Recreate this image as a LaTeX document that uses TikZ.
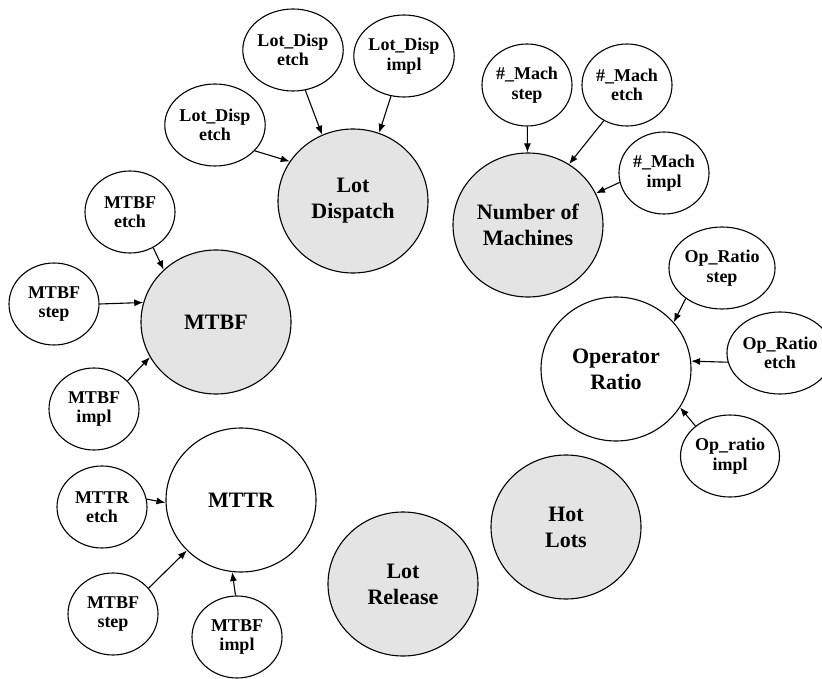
\documentclass[tikz,border=0pt]{standalone}
\usepackage{fontspec}
\setmainfont{Liberation Serif}
\usetikzlibrary{shapes.geometric,arrows.meta}
\definecolor{factorgray}{HTML}{E4E4E4}
\begin{document}
\begin{tikzpicture}[x=1pt,y=-1pt,
  factor/.style={ellipse,draw,line width=1.1pt,inner sep=0pt,
    minimum width=150pt,minimum height=144pt,align=center,
    font=\bfseries\fontsize{22}{26}\selectfont},
  shaded/.style={factor,fill=factorgray},
  sub/.style={ellipse,draw,line width=1.1pt,inner sep=0pt,
    minimum width=90pt,minimum height=82pt,align=center,
    font=\bfseries\fontsize{18}{19.5}\selectfont},
  link/.style={line width=1.1pt,-{Latex[length=9pt,width=7pt]}}]
  \useasboundingbox (0,0) rectangle (822,679);
  % main factors
  \node[shaded] (ld) at (353,201) {Lot\\Dispatch};
  \node[shaded] (nm) at (528,225) {Number of\\Machines};
  \node[shaded] (mtbf) at (216,322) {MTBF};
  \node[factor] (or) at (616,369) {Operator\\Ratio};
  \node[factor] (mttr) at (241,500) {MTTR};
  \node[shaded] (hl) at (566,527) {Hot\\Lots};
  \node[shaded] (lr) at (403,584) {Lot\\Release};
  % sub factors
  \node[sub] (lde) at (215,125) {Lot\_Disp\\etch};
  \node[sub] (ldt) at (293,50) {Lot\_Disp\\etch};
  \node[sub] (ldi) at (404,56) {Lot\_Disp\\impl};
  \node[sub] (nms) at (527,85) {\#\_Mach\\step};
  \node[sub] (nme) at (627,85) {\#\_Mach\\etch};
  \node[sub] (nmi) at (664,173) {\#\_Mach\\impl};
  \node[sub] (mbe) at (130,212) {MTBF\\etch};
  \node[sub] (mbs) at (54,304) {MTBF\\step};
  \node[sub] (mbi) at (94,409) {MTBF\\impl};
  \node[sub] (ors) at (722,268) {Op\_Ratio\\step};
  \node[sub] (ore) at (780,353) {Op\_Ratio\\etch};
  \node[sub] (ori) at (730,456) {Op\_ratio\\impl};
  \node[sub] (mte) at (102,507) {MTTR\\etch};
  \node[sub] (mts) at (113,614) {MTBF\\step};
  \node[sub] (mti) at (237,637) {MTBF\\impl};
  % links
  \draw[link] (lde.327) -- (ld.148);
  \draw[link] (ldt.287) -- (ld.115);
  \draw[link] (ldi.252) -- (ld.69);
  \draw[link] (nms) -- (nm);
  \draw[link] (nme.237) -- (nm.56);
  \draw[link] (nmi.192) -- (nm.25);
  \draw[link] (mbe.303) -- (mtbf.135);
  \draw[link] (mbs.0) -- (mtbf.165);
  \draw[link] (mbi.40) -- (mtbf.208);
  \draw[link] (ors.220) -- (or.39);
  \draw[link] (ore.190) -- (or.6);
  \draw[link] (ori.139) -- (or.329);
  \draw[link] (mte.10) -- (mttr.182);
  \draw[link] (mts.36) -- (mttr.223);
  \draw[link] (mti.92) -- (mttr.263);
\end{tikzpicture}
\end{document}
